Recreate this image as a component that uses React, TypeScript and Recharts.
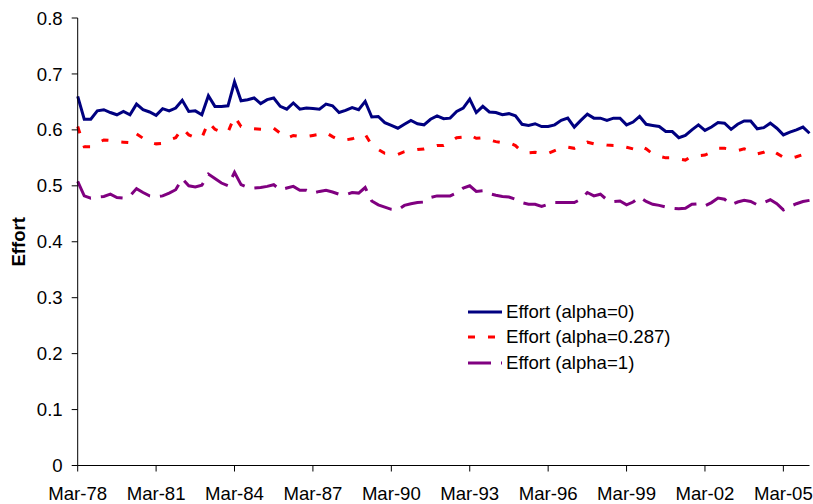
import React from 'react';
import { LineChart, Line, XAxis, YAxis, Legend } from 'recharts';

const MONTHS = ['Mar', 'Jun', 'Sep', 'Dec'];
const START_YEAR = 1978;

const effortAlpha0 = [
  0.660, 0.619, 0.619, 0.634, 0.636, 0.631, 0.627, 0.633, 0.627, 0.646,
  0.636, 0.632, 0.626, 0.638, 0.634, 0.639, 0.653, 0.633, 0.634, 0.627,
  0.661, 0.642, 0.642, 0.643, 0.686, 0.652, 0.654, 0.657, 0.647, 0.654,
  0.657, 0.642, 0.637, 0.648, 0.637, 0.639, 0.638, 0.637, 0.646, 0.643,
  0.631, 0.635, 0.640, 0.636, 0.651, 0.623, 0.624, 0.613, 0.608, 0.603,
  0.610, 0.617, 0.611, 0.609, 0.619, 0.625, 0.620, 0.621, 0.633, 0.639,
  0.655, 0.631, 0.642, 0.632, 0.631, 0.627, 0.629, 0.625, 0.610, 0.608,
  0.611, 0.606, 0.606, 0.609, 0.617, 0.621, 0.605, 0.617, 0.628, 0.621,
  0.621, 0.617, 0.621, 0.621, 0.609, 0.614, 0.624, 0.610, 0.608, 0.606,
  0.597, 0.597, 0.586, 0.590, 0.600, 0.609, 0.599, 0.605, 0.613, 0.612,
  0.601, 0.610, 0.616, 0.616, 0.602, 0.604, 0.612, 0.603, 0.591, 0.596,
  0.600, 0.605, 0.594,
];

const effortAlpha0287 = [
  0.606, 0.570, 0.570, 0.576, 0.582, 0.581, 0.579, 0.578, 0.577, 0.593,
  0.585, 0.578, 0.575, 0.576, 0.582, 0.586, 0.603, 0.591, 0.586, 0.586,
  0.614, 0.601, 0.596, 0.596, 0.624, 0.606, 0.603, 0.602, 0.601, 0.600,
  0.603, 0.594, 0.585, 0.590, 0.588, 0.588, 0.590, 0.592, 0.595, 0.588,
  0.582, 0.582, 0.584, 0.588, 0.592, 0.573, 0.565, 0.558, 0.558, 0.556,
  0.561, 0.563, 0.565, 0.566, 0.569, 0.572, 0.572, 0.578, 0.586, 0.587,
  0.591, 0.585, 0.586, 0.582, 0.579, 0.577, 0.577, 0.572, 0.561, 0.559,
  0.560, 0.558, 0.558, 0.563, 0.568, 0.569, 0.567, 0.572, 0.578, 0.575,
  0.575, 0.573, 0.572, 0.572, 0.569, 0.566, 0.572, 0.566, 0.557, 0.553,
  0.550, 0.550, 0.548, 0.546, 0.553, 0.554, 0.555, 0.560, 0.567, 0.567,
  0.565, 0.563, 0.566, 0.562, 0.557, 0.560, 0.565, 0.558, 0.551, 0.549,
  0.552, 0.556, 0.553,
];

const effortAlpha1 = [
  0.508, 0.482, 0.478, 0.480, 0.481, 0.485, 0.479, 0.478, 0.482, 0.495,
  0.488, 0.482, 0.480, 0.482, 0.487, 0.493, 0.513, 0.500, 0.498, 0.501,
  0.521, 0.513, 0.505, 0.500, 0.524, 0.502, 0.497, 0.496, 0.497, 0.499,
  0.502, 0.493, 0.496, 0.499, 0.492, 0.492, 0.487, 0.490, 0.492, 0.489,
  0.485, 0.484, 0.488, 0.487, 0.497, 0.473, 0.466, 0.462, 0.458, 0.457,
  0.465, 0.468, 0.470, 0.471, 0.479, 0.482, 0.482, 0.482, 0.487, 0.496,
  0.500, 0.490, 0.491, 0.486, 0.483, 0.481, 0.480, 0.476, 0.470, 0.467,
  0.467, 0.463, 0.467, 0.470, 0.470, 0.470, 0.470, 0.476, 0.488, 0.482,
  0.485, 0.475, 0.472, 0.473, 0.466, 0.471, 0.480, 0.472, 0.467, 0.465,
  0.462, 0.460, 0.459, 0.460, 0.467, 0.468, 0.464, 0.470, 0.478, 0.476,
  0.466, 0.471, 0.474, 0.472, 0.466, 0.470, 0.475, 0.468, 0.457, 0.463,
  0.468, 0.472, 0.474,
];

const Y_TICKS = [0, 0.1, 0.2, 0.3, 0.4, 0.5, 0.6, 0.7, 0.8];
const SERIES_NAMES = ['Effort (alpha=0)', 'Effort (alpha=0.287)', 'Effort (alpha=1)'];
const Y_LABEL = 'Effort';

const FONT = '"Liberation Sans", Arial, Helvetica, sans-serif';
const FONT_SIZE = 18.6;

const COLORS: Record<string, string> = { a0: '#000080', a287: '#FF0000', a1: '#800080' };
const DASH: Record<string, string | undefined> = { a0: undefined, a287: '7 13', a1: '23 10' };

const dates = effortAlpha0.map((_, i) => {
  const y = (START_YEAR + Math.floor(i / 4)) % 100;
  return `${MONTHS[i % 4]}-${String(y).padStart(2, '0')}`;
});

const data = dates.map((date, i) => ({
  date,
  a0: effortAlpha0[i],
  a287: effortAlpha0287[i],
  a1: effortAlpha1[i],
}));

const renderLegend = (props: any) => {
  const { payload } = props;
  return (
    <div style={{ fontFamily: FONT, fontSize: FONT_SIZE, color: '#000' }}>
      {(payload || []).map((entry: any) => (
        <div
          key={entry.dataKey}
          style={{ display: 'flex', alignItems: 'center', height: 25.5, whiteSpace: 'nowrap' }}
        >
          <svg width={34} height={6} style={{ marginRight: 4, flex: 'none' }}>
            <line
              x1={0}
              y1={3}
              x2={34}
              y2={3}
              stroke={COLORS[entry.dataKey]}
              strokeWidth={3}
              strokeDasharray={DASH[entry.dataKey]}
            />
          </svg>
          <span>{entry.value}</span>
        </div>
      ))}
    </div>
  );
};

const YLabel = (props: any) => {
  const vb = props.viewBox || { x: 0, y: 0, width: 0, height: 0 };
  const cx = 25;
  const cy = vb.y + vb.height / 2;
  return (
    <text
      x={cx}
      y={cy}
      transform={`rotate(-90 ${cx} ${cy})`}
      textAnchor="middle"
      fontFamily={FONT}
      fontSize={FONT_SIZE}
      fontWeight="bold"
      fill="#000"
    >
      {Y_LABEL}
    </text>
  );
};

export default function App() {
  return (
    <div style={{ position: 'absolute', left: 0, top: 0, width: 813, height: 504, background: '#fff' }}>
      <LineChart width={813} height={504} data={data} margin={{ top: 18, right: 3.5, left: 0, bottom: 0 }}>
        <XAxis
          dataKey="date"
          type="category"
          interval={11}
          height={38.5}
          tickSize={6}
          tickMargin={15.5}
          stroke="#000"
          tick={{ fill: '#000', fontFamily: FONT, fontSize: FONT_SIZE }}
          axisLine={{ stroke: '#000' }}
          tickLine={{ stroke: '#000' }}
        />
        <YAxis
          type="number"
          domain={[0, 0.8]}
          ticks={Y_TICKS}
          width={77.7}
          tickSize={6}
          tickMargin={9}
          stroke="#000"
          tick={{ fill: '#000', fontFamily: FONT, fontSize: FONT_SIZE }}
          axisLine={{ stroke: '#000' }}
          tickLine={{ stroke: '#000' }}
          label={<YLabel />}
        />
        <Legend
          layout="vertical"
          align="center"
          verticalAlign="middle"
          content={renderLegend}
          wrapperStyle={{ left: 468, top: 299, width: 'auto', height: 'auto' }}
        />
        <Line
          type="linear"
          dataKey="a0"
          name={SERIES_NAMES[0]}
          stroke={COLORS.a0}
          strokeWidth={3}
          dot={false}
          activeDot={false}
          isAnimationActive={false}
        />
        <Line
          type="linear"
          dataKey="a287"
          name={SERIES_NAMES[1]}
          stroke={COLORS.a287}
          strokeWidth={3}
          strokeDasharray={DASH.a287}
          dot={false}
          activeDot={false}
          isAnimationActive={false}
        />
        <Line
          type="linear"
          dataKey="a1"
          name={SERIES_NAMES[2]}
          stroke={COLORS.a1}
          strokeWidth={3}
          strokeDasharray={DASH.a1}
          dot={false}
          activeDot={false}
          isAnimationActive={false}
        />
      </LineChart>
    </div>
  );
}
